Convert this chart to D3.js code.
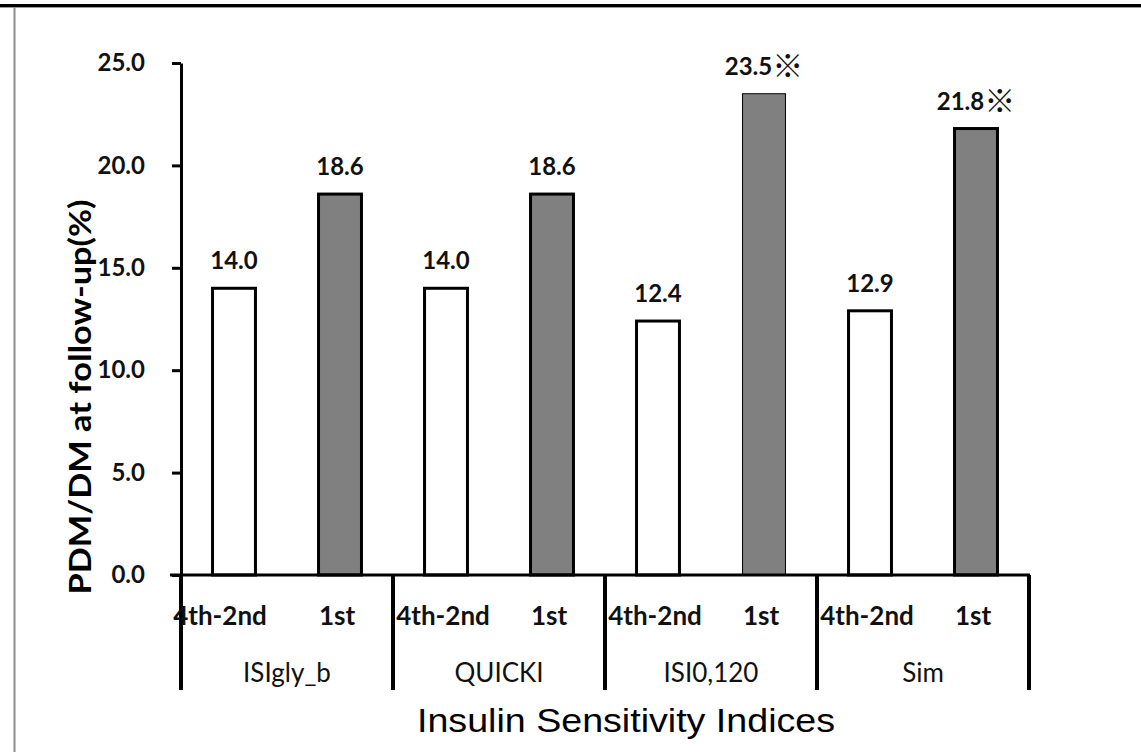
<!DOCTYPE html>
<html lang="en">
<head>
  <meta charset="UTF-8">
  <title>PDM/DM at follow-up by Insulin Sensitivity Indices</title>
  <script src="https://d3js.org/d3.v7.min.js"></script>
  <style>
    body { margin: 0; background: #fff; }
  </style>
</head>
<body>
<div id="chart"></div>
<script>
  // chart data
  const groups = ["ISIgly_b", "QUICKI", "ISI0,120", "Sim"];
  const levels = ["4th-2nd", "1st"];
  const lowValues = [14.0, 14.0, 12.4, 12.9];
  const topValues = [18.6, 18.6, 23.5, 21.8];
  const marked = [false, false, true, true];
  const yTicks = [0, 5, 10, 15, 20, 25];

  const W = 1141, H = 752;
  const plotLeft = 181, plotRight = 1029, plotTop = 63, plotBase = 575, divBottom = 690;

  const rows = groups.flatMap((g, i) => [
    { group: g, level: levels[0], value: lowValues[i], mark: false, idx: i * 2 },
    { group: g, level: levels[1], value: topValues[i], mark: marked[i], idx: i * 2 + 1 }
  ]);

  const svg = d3.select("#chart").append("svg")
    .attr("width", W)
    .attr("height", H)
    .style("font-family", "Lato, 'Open Sans', sans-serif");

  // frame lines
  svg.append("line").attr("x1", 0).attr("x2", W).attr("y1", 5.5).attr("y2", 5.5)
    .attr("stroke", "#000").attr("stroke-width", 3);
  svg.append("line").attr("x1", 0).attr("x2", W).attr("y1", 7.5).attr("y2", 7.5)
    .attr("stroke", "#999").attr("stroke-width", 1);
  svg.append("line").attr("x1", 14.5).attr("x2", 14.5).attr("y1", 7).attr("y2", H)
    .attr("stroke", "#8c8c8c").attr("stroke-width", 2);

  const x = d3.scaleBand()
    .domain(rows.map(d => d.group + "|" + d.level))
    .range([plotLeft, plotRight])
    .padding(0);
  const xGroup = d3.scaleBand().domain(groups).range([plotLeft, plotRight]).padding(0);
  const y = d3.scaleLinear().domain([0, 25]).range([plotBase, plotTop]);

  const barW = x.bandwidth() * 0.405;

  // bars
  svg.selectAll(".bar")
    .data(rows)
    .enter().append("rect")
    .attr("class", "bar")
    .attr("x", d => x(d.group + "|" + d.level) + (x.bandwidth() - barW) / 2)
    .attr("y", d => y(d.value))
    .attr("width", barW)
    .attr("height", d => y(0) - y(d.value))
    .attr("fill", d => d.level === "1st" ? "#808080" : "#fff")
    .attr("stroke", "#000")
    .attr("stroke-width", d => d.idx === 5 ? 1 : 3);

  // value labels
  const lab = svg.selectAll(".val")
    .data(rows)
    .enter().append("text")
    .attr("class", "val")
    .attr("x", d => x(d.group + "|" + d.level) + x.bandwidth() / 2)
    .attr("y", d => y(d.value) - 19)
    .attr("text-anchor", "middle")
    .style("font-size", "24px")
    .style("font-weight", "bold")
    .attr("fill", "#111");
  lab.append("tspan").text(d => d.value.toFixed(1));
  lab.filter(d => d.mark).append("tspan")
    .attr("dy", 2)
    .style("font-family", "'Noto Sans CJK JP'")
    .style("font-size", "31px")
    .style("font-weight", "bold")
    .text("※");

  // y axis
  const yAxis = svg.append("g")
    .attr("transform", `translate(${plotLeft},0)`)
    .call(d3.axisLeft(y).tickValues(yTicks).tickSize(9).tickSizeOuter(0)
      .tickPadding(27).tickFormat(d3.format(".1f")));
  yAxis.select(".domain").attr("stroke-width", 3);
  yAxis.selectAll(".tick line").attr("stroke-width", 3);
  yAxis.selectAll(".tick text")
    .style("font-size", "24px")
    .style("font-weight", "bold")
    .style("font-family", "Lato, sans-serif")
    .attr("fill", "#111");

  // x axis baseline and group dividers
  svg.append("line")
    .attr("x1", plotLeft - 11).attr("x2", plotRight + 1)
    .attr("y1", y(0)).attr("y2", y(0))
    .attr("stroke", "#000").attr("stroke-width", 3);
  const edges = groups.map(g => xGroup(g)).concat([plotRight]);
  svg.selectAll(".div")
    .data(edges)
    .enter().append("line")
    .attr("x1", d => d).attr("x2", d => d)
    .attr("y1", y(0)).attr("y2", divBottom)
    .attr("stroke", "#000").attr("stroke-width", 4);

  // level labels
  svg.selectAll(".lvl")
    .data(rows)
    .enter().append("text")
    .attr("x", d => x(d.group + "|" + d.level) + x.bandwidth() / 2 - (d.idx === 0 ? 14 : 3))
    .attr("y", 625)
    .attr("text-anchor", "middle")
    .style("font-size", "26px")
    .style("font-weight", "bold")
    .attr("fill", "#111")
    .text(d => d.level);

  // group labels
  svg.selectAll(".grp")
    .data(groups)
    .enter().append("text")
    .attr("x", d => xGroup(d) + xGroup.bandwidth() / 2)
    .attr("y", 682)
    .attr("text-anchor", "middle")
    .style("font-size", "26px")
    .attr("fill", "#111")
    .text(d => d);

  // axis titles
  svg.append("text")
    .attr("x", 626)
    .attr("y", 732)
    .attr("text-anchor", "middle")
    .attr("textLength", 418)
    .attr("lengthAdjust", "spacingAndGlyphs")
    .style("font-family", "'Liberation Sans', Arial, sans-serif")
    .style("font-size", "34px")
    .attr("fill", "#000")
    .text("Insulin Sensitivity Indices");

  svg.append("text")
    .attr("transform", "translate(91,397) rotate(-90)")
    .attr("text-anchor", "middle")
    .attr("textLength", 395)
    .attr("lengthAdjust", "spacingAndGlyphs")
    .style("font-size", "31px")
    .style("font-weight", "bold")
    .attr("fill", "#000")
    .text("PDM/DM at follow-up(%)");
</script>
</body>
</html>
